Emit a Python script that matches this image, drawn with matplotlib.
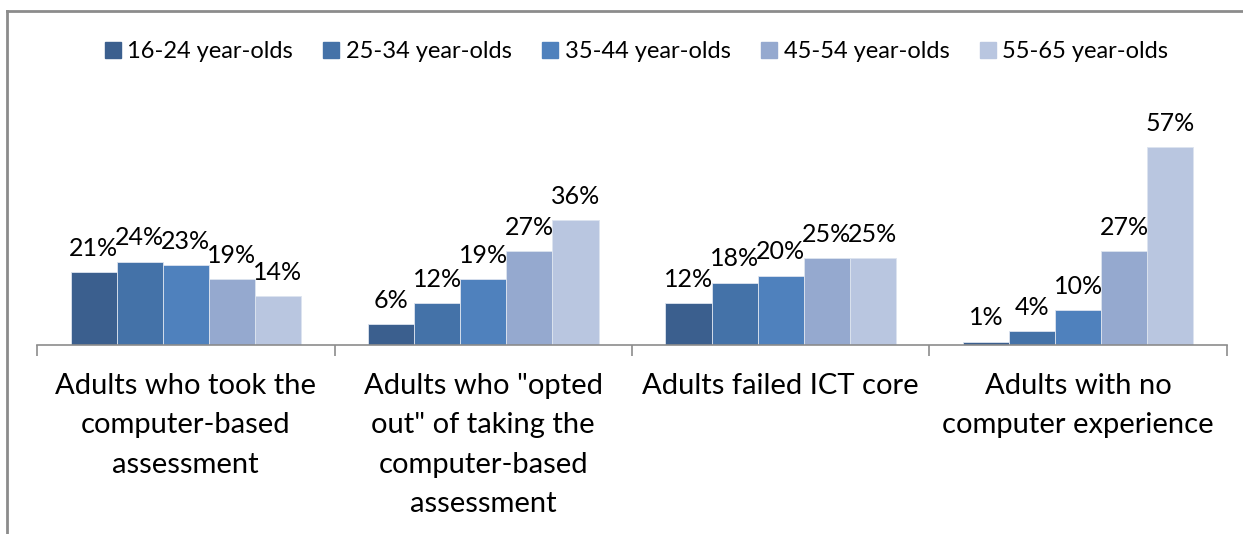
import matplotlib
matplotlib.use("Agg")
import matplotlib.pyplot as plt
import numpy as np
from matplotlib.lines import Line2D

plt.rcParams['font.family'] = ['Lato', 'DejaVu Sans']

categories = ['Adults who took the\ncomputer-based\nassessment',
              'Adults who "opted\nout" of taking the\ncomputer-based\nassessment',
              'Adults failed ICT core',
              'Adults with no\ncomputer experience']
series_names = ['16-24 year-olds', '25-34 year-olds', '35-44 year-olds',
                '45-54 year-olds', '55-65 year-olds']
values = {
    '16-24 year-olds': [21, 6, 12, 1],
    '25-34 year-olds': [24, 12, 18, 4],
    '35-44 year-olds': [23, 19, 20, 10],
    '45-54 year-olds': [19, 27, 25, 27],
    '55-65 year-olds': [14, 36, 25, 57],
}
colors = ['#3B5F8E', '#4472A8', '#4F81BD', '#95A9CF', '#B9C6E0']

fig = plt.figure(figsize=(12.43, 5.34), dpi=100)
ax = fig.add_axes([0.0298, 0.3539, 0.9573, 0.3895])

n = len(series_names)
bw = 0.155
x = np.arange(len(categories))
for i, s in enumerate(series_names):
    pos = x + (i - (n - 1) / 2) * bw
    bars = ax.bar(pos, values[s], width=bw, color=colors[i], edgecolor='#dde4ef',
                  linewidth=0.6, label=s, zorder=2)
    for b, v in zip(bars, values[s]):
        ax.annotate(f'{v}%', (b.get_x() + b.get_width() / 2, v),
                    xytext=(0, 9), textcoords='offset points', ha='center',
                    va='bottom', fontsize=18, color='black')

ax.set_xlim(-0.5, len(categories) - 0.5)
ax.set_ylim(0, 60)
for sp in ['top', 'right', 'left']:
    ax.spines[sp].set_visible(False)
ax.spines['bottom'].set_color('#8c8c8c')
ax.spines['bottom'].set_linewidth(1.2)
ax.set_yticks([])
ax.set_xticks(x)
ax.set_xticklabels(categories, fontsize=21, linespacing=1.64, va='top')
ax.tick_params(axis='x', which='major', length=0, pad=20)
ax.set_xticks(np.arange(-0.5, len(categories)), minor=True)
ax.tick_params(axis='x', which='minor', length=8, width=1.2, color='#8c8c8c')

handles = [Line2D([0], [0], marker='s', linestyle='none', markersize=11,
                  markerfacecolor=c, markeredgecolor=c) for c in colors]
fig.legend(handles, series_names, loc='center', bbox_to_anchor=(0.511, 0.903),
           ncol=5, frameon=False, fontsize=17, handletextpad=0.15,
           columnspacing=1.2, handlelength=0.9)

# outer chart border (top and left visible)
fig.add_artist(Line2D([0.0056, 0.0056], [0.0, 0.979], color='#8c8c8c', lw=2,
                      transform=fig.transFigure))
fig.add_artist(Line2D([0.0056, 1.0], [0.979, 0.979], color='#8c8c8c', lw=2,
                      transform=fig.transFigure))

fig.savefig('out.png', dpi=100)
